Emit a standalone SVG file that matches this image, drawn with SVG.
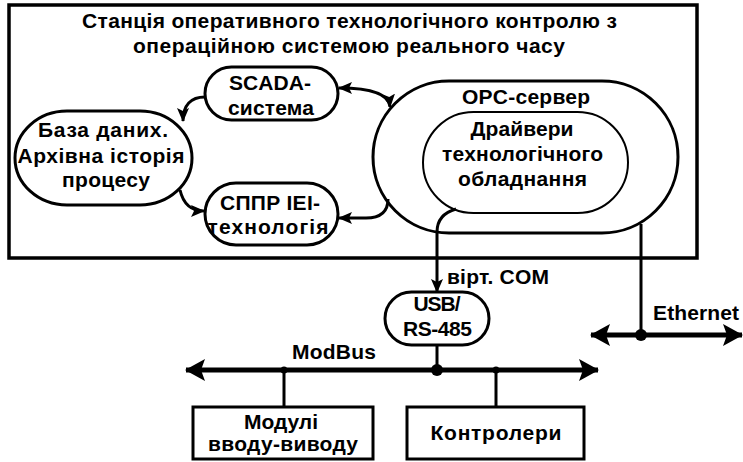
<svg xmlns="http://www.w3.org/2000/svg" width="743" height="462" viewBox="0 0 743 462">
<style>
text{font-family:"Liberation Sans",Arial,sans-serif;font-weight:bold;font-size:21px;fill:#000;text-anchor:middle}
.st{text-anchor:start}
.shape{fill:#fff;stroke:#000;stroke-width:3}
.thin{fill:#fff;stroke:#000;stroke-width:2}
.conn{fill:none;stroke:#000;stroke-width:3}
.bus{fill:none;stroke:#000;stroke-width:5}
</style>
<defs>
<marker id="ah" markerUnits="userSpaceOnUse" viewBox="0 0 14 12" markerWidth="14" markerHeight="12" refX="13" refY="6" orient="auto-start-reverse">
<path d="M0,0 L14,6 L0,12 L3,6 z" fill="#000"/>
</marker>
<marker id="bh" markerUnits="userSpaceOnUse" viewBox="0 0 20 22" markerWidth="20" markerHeight="22" refX="19" refY="11" orient="auto-start-reverse">
<path d="M0,0 L20,11 L0,22 L4,11 z" fill="#000"/>
</marker>
</defs>
<rect width="743" height="462" fill="#fff"/>

<g id="station">
<rect x="9" y="5" width="688" height="253" fill="none" stroke="#000" stroke-width="3.5"/>
<text x="349.5" y="28" textLength="535">Станція оперативного технологічного контролю з</text>
<text x="349" y="53" textLength="432">операційною системою реального часу</text>
</g>

<g id="opc">
<rect class="shape" x="373" y="81" width="305" height="152" rx="76" ry="76"/>
<text x="526" y="104" textLength="128">OPC-сервер</text>
</g>

<g id="drivers">
<rect class="thin" x="423" y="112" width="205" height="101" rx="50.5" ry="50.5"/>
<text x="522" y="136" textLength="103">Драйвери</text>
<text x="522.5" y="161" textLength="161">технологічного</text>
<text x="522.5" y="186" textLength="129">обладнання</text>
</g>

<g id="scada">
<rect class="shape" x="205" y="67" width="133" height="53" rx="26.5" ry="26.5"/>
<text x="270" y="90" textLength="82">SCADA-</text>
<text x="271" y="115" textLength="86">система</text>
</g>

<g id="db">
<rect class="shape" x="15" y="111" width="177" height="94" rx="52" ry="47"/>
<text x="103" y="137" textLength="130">База даних.</text>
<text x="101" y="163" textLength="167">Архівна історія</text>
<text x="106" y="187" textLength="88">процесу</text>
</g>

<g id="sppr">
<rect class="shape" x="205" y="183" width="133" height="62" rx="31" ry="31"/>
<text x="270" y="210" textLength="100">СППР ІЕІ-</text>
<text x="268" y="234" textLength="121">технологія</text>
</g>

<g id="usb">
<rect class="shape" x="385" y="292" width="104" height="53" rx="26.5" ry="26.5"/>
<text x="437" y="311" textLength="47">USB/</text>
<text x="437.5" y="336" textLength="69">RS-485</text>
</g>

<g id="modules">
<rect class="shape" x="193" y="407" width="180" height="52"/>
<text x="281" y="429" textLength="74">Модулі</text>
<text x="283" y="451" textLength="150">вводу-виводу</text>
</g>

<g id="controllers">
<rect class="shape" x="407" y="407" width="177" height="52"/>
<text x="496" y="440" textLength="131">Контролери</text>
</g>

<g id="connectors">
<path class="conn" d="M205,97 C191,97 183,105 183,121" marker-end="url(#ah)"/>
<path class="conn" d="M180,190 C183,203 190,211 204,211" marker-end="url(#ah)"/>
<path class="conn" d="M339,88 C372,88 389,94 390,107" marker-start="url(#ah)" marker-end="url(#ah)"/>
<path class="conn" d="M388,199 C388,212 380,218 366,218 L339,218" marker-end="url(#ah)"/>
<path class="conn" d="M456,209 C442,213 437,221 437,232 L437,292" marker-end="url(#ah)"/>
<line class="conn" x1="641" y1="224" x2="641" y2="335"/>
<line class="conn" x1="437" y1="345" x2="437" y2="370"/>
<line class="conn" x1="284" y1="370" x2="284" y2="407"/>
<line class="conn" x1="496" y1="370" x2="496" y2="407"/>
<line class="bus" x1="186" y1="370" x2="598" y2="370" marker-start="url(#bh)" marker-end="url(#bh)"/>
<line class="bus" x1="591" y1="335" x2="742" y2="335" marker-start="url(#bh)" marker-end="url(#bh)"/>
<circle cx="437" cy="370" r="6"/>
<circle cx="641" cy="335" r="6"/>
<circle cx="284" cy="370" r="3.5"/>
<circle cx="496" cy="370" r="3.5"/>
<text class="st" x="447" y="284" textLength="102">вірт. COM</text>
<text class="st" x="292" y="359" textLength="84">ModBus</text>
<text class="st" x="653" y="320" textLength="86">Ethernet</text>
</g>
</svg>
